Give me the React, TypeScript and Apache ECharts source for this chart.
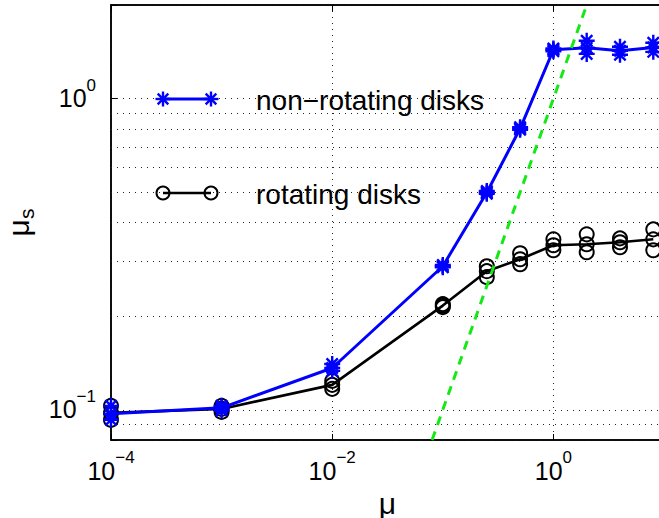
import React, { useEffect, useRef } from 'react';
import * as echarts from 'echarts';

// ---- data ----
const muValues = [1e-4, 1e-3, 1e-2, 0.1, 0.25, 0.5, 1, 2, 4, 8];
const nonRotatingMean = [0.0971, 0.1015, 0.1363, 0.2894, 0.4996, 0.8016, 1.436, 1.457, 1.426, 1.46];
const nonRotatingHigh = [0.103, 0.103, 0.1404, 0.292, 0.505, 0.81, 1.45, 1.535, 1.468, 1.512];
const nonRotatingLow = [0.0929, 0.0995, 0.1334, 0.287, 0.495, 0.795, 1.42, 1.393, 1.384, 1.414];
const rotatingMean = [0.0978, 0.1007, 0.1203, 0.2163, 0.279, 0.3048, 0.338, 0.3405, 0.3456, 0.3532];
const rotatingHigh = [0.103, 0.103, 0.1239, 0.2187, 0.2894, 0.3186, 0.3532, 0.3665, 0.3557, 0.3802];
const rotatingLow = [0.0929, 0.0985, 0.1168, 0.2139, 0.2669, 0.2938, 0.3257, 0.3209, 0.3331, 0.3257];
const referenceLineX = [0.08, 2];
const referenceLineY = [0.08, 2];
const xRange = [1e-4, 10];
const yRange = [0.08, 2];
const yMinorGrid = [0.09, 0.2, 0.3, 0.4, 0.5, 0.6, 0.7, 0.8, 0.9];
const legendLabels = ['non\u2212rotating disks', 'rotating disks'];
const xAxisTitle = 'μ';
const yAxisTitleMain = 'μ';
const yAxisTitleSub = 's';

const FONT = 'Liberation Sans, Arial, Helvetica, sans-serif';
const BLUE = '#0000ff';
const GREEN = '#16e816';
const DOT = [1, 5];

const zip = (xs: number[], ys: number[]) => xs.map((x, i) => [x, ys[i]]);

const powerLabel = (v: number) => {
  const e = Math.log10(v);
  const r = Math.round(e);
  if (Math.abs(e - r) > 1e-6) return '';
  return `{b|10}{e|${r < 0 ? '\u2212' : ''}${Math.abs(r)}}`;
};

const tickRich = {
  b: { fontSize: 25, fontFamily: FONT, color: '#000', lineHeight: 34, verticalAlign: 'bottom' },
  e: { fontSize: 17, fontFamily: FONT, color: '#000', lineHeight: 17, verticalAlign: 'top' },
};

const asterisk = (cx: number, cy: number, r: number, color: string) => {
  const d = r * 0.7071;
  const seg = (x1: number, y1: number, x2: number, y2: number) => ({
    type: 'line',
    shape: { x1: cx + x1, y1: cy + y1, x2: cx + x2, y2: cy + y2 },
    style: { stroke: color, lineWidth: 2.4 },
  });
  return {
    type: 'group',
    children: [seg(0, -r, 0, r), seg(-r, 0, r, 0), seg(-d, -d, d, d), seg(-d, d, d, -d)],
  };
};

const ASTERISK_PATH = 'path://M10,0L10,20M0,10L20,10M2.93,2.93L17.07,17.07M2.93,17.07L17.07,2.93';

export default function App() {
  const ref = useRef<HTMLDivElement>(null);
  useEffect(() => {
    if (!ref.current) return;
    const chart = echarts.init(ref.current, null, { renderer: 'svg' });
    const dottedStyle = { color: '#222', width: 1, type: DOT };
    const circleStyle = { color: 'none', borderColor: '#000', borderWidth: 2 };
    const starStyle = { color: BLUE, borderColor: BLUE, borderWidth: 2.4 };
    const option: any = {
      animation: false,
      backgroundColor: '#fff',
      grid: {
        left: 111,
        top: 5,
        width: 553,
        height: 435,
        show: true,
        borderColor: '#000',
        borderWidth: 1.5,
        backgroundColor: 'transparent',
        outerBoundsMode: 'none',
      },
      xAxis: [
        {
          type: 'log',
          logBase: 10,
          min: xRange[0],
          max: xRange[1],
          interval: 2,
          axisLine: { show: true, onZero: false, lineStyle: { color: '#000', width: 1.5 } },
          axisTick: { show: true, inside: true, length: 6, lineStyle: { color: '#000', width: 1 } },
          axisLabel: { formatter: (v: number) => { const r = Math.round(Math.log10(v)); return r % 2 === 0 && r <= 0 ? powerLabel(v) : ''; }, margin: 9, rich: tickRich, color: '#000' },
          splitLine: { show: true, lineStyle: dottedStyle },
          minorTick: { show: false },
          name: xAxisTitle,
          nameLocation: 'middle',
          nameGap: 48,
          nameTextStyle: { fontSize: 30, fontFamily: FONT, color: '#000' },
        },
        {
          type: 'log',
          logBase: 10,
          position: 'top',
          min: xRange[0],
          max: xRange[1],
          interval: 2,
          axisLine: { show: true, onZero: false, lineStyle: { color: '#000', width: 1.5 } },
          axisTick: { show: true, inside: true, length: 6, lineStyle: { color: '#000', width: 1 } },
          axisLabel: { show: false },
          splitLine: { show: false },
        },
      ],
      yAxis: {
        type: 'log',
        logBase: 10,
        min: yRange[0],
        max: yRange[1],
        axisLine: { show: true, onZero: false, lineStyle: { color: '#000', width: 1.5 } },
        axisTick: { show: true, inside: true, length: 6, lineStyle: { color: '#000', width: 1 } },
        axisLabel: { formatter: powerLabel, margin: 15, padding: [0, 0, 10, 0], rich: tickRich, color: '#000' },
        splitLine: { show: true, lineStyle: dottedStyle },
        name: `{m|${yAxisTitleMain}}{s|${yAxisTitleSub}}`,
        nameLocation: 'middle',
        nameRotate: 90,
        nameGap: 74,
        nameTextStyle: {
          color: '#000',
          rich: {
            m: { fontSize: 30, fontFamily: FONT, color: '#000', lineHeight: 34, verticalAlign: 'top' },
            s: { fontSize: 21, fontFamily: FONT, color: '#000', lineHeight: 21, verticalAlign: 'bottom' },
          },
        },
      },
      series: [
        {
          type: 'line',
          name: 'rotating spread high',
          data: zip(muValues, rotatingHigh),
          symbol: 'circle',
          symbolSize: 14,
          lineStyle: { width: 0, opacity: 0 },
          itemStyle: circleStyle,
          silent: true,
          z: 2,
        },
        {
          type: 'line',
          name: 'rotating spread low',
          data: zip(muValues, rotatingLow),
          symbol: 'circle',
          symbolSize: 14,
          lineStyle: { width: 0, opacity: 0 },
          itemStyle: circleStyle,
          silent: true,
          z: 2,
        },
        {
          type: 'line',
          name: legendLabels[1],
          data: zip(muValues, rotatingMean),
          symbol: 'circle',
          symbolSize: 14,
          showAllSymbol: true,
          lineStyle: { color: '#000', width: 2.6 },
          itemStyle: circleStyle,
          silent: true,
          z: 3,
        },
        {
          type: 'line',
          name: 'non-rotating spread high',
          data: zip(muValues, nonRotatingHigh),
          symbol: ASTERISK_PATH,
          symbolSize: 16,
          lineStyle: { width: 0, opacity: 0 },
          itemStyle: starStyle,
          silent: true,
          z: 4,
        },
        {
          type: 'line',
          name: 'non-rotating spread low',
          data: zip(muValues, nonRotatingLow),
          symbol: ASTERISK_PATH,
          symbolSize: 16,
          lineStyle: { width: 0, opacity: 0 },
          itemStyle: starStyle,
          silent: true,
          z: 4,
        },
        {
          type: 'line',
          name: legendLabels[0],
          data: zip(muValues, nonRotatingMean),
          symbol: ASTERISK_PATH,
          symbolSize: 16,
          showAllSymbol: true,
          lineStyle: { color: BLUE, width: 3 },
          itemStyle: starStyle,
          silent: true,
          z: 5,
        },
        {
          type: 'line',
          name: 'μs = μ',
          data: zip(referenceLineX, referenceLineY),
          symbol: 'none',
          lineStyle: { color: GREEN, width: 3, type: [9, 7] },
          silent: true,
          z: 6,
          markLine: {
            silent: true,
            symbol: ['none', 'none'],
            label: { show: false },
            lineStyle: { color: '#222', width: 1, type: DOT },
            emphasis: { disabled: true },
            data: yMinorGrid.map((v) => ({ yAxis: v })),
            z: 1,
          },
        },
      ],
      graphic: [
        { type: 'line', shape: { x1: 163, y1: 99, x2: 211, y2: 99 }, style: { stroke: BLUE, lineWidth: 3 }, z: 10 },
        { ...asterisk(163, 99, 7.5, BLUE), z: 10 },
        { ...asterisk(211, 99, 7.5, BLUE), z: 10 },
        { type: 'text', x: 256, y: 100, style: { text: legendLabels[0], font: `28px ${FONT}`, fill: '#000', verticalAlign: 'middle', align: 'left' }, z: 10 },
        { type: 'line', shape: { x1: 163, y1: 193, x2: 211, y2: 193 }, style: { stroke: '#000', lineWidth: 2.6 }, z: 10 },
        { type: 'circle', shape: { cx: 163, cy: 193, r: 6.5 }, style: { stroke: '#000', lineWidth: 2, fill: 'none' }, z: 10 },
        { type: 'circle', shape: { cx: 211, cy: 193, r: 6.5 }, style: { stroke: '#000', lineWidth: 2, fill: 'none' }, z: 10 },
        { type: 'text', x: 256, y: 194, style: { text: legendLabels[1], font: `28px ${FONT}`, fill: '#000', verticalAlign: 'middle', align: 'left' }, z: 10 },
      ],
    };
    chart.setOption(option);
    return () => chart.dispose();
  }, []);
  return <div ref={ref} style={{ position: 'fixed', left: 0, top: 0, width: 659, height: 518 }} />;
}
